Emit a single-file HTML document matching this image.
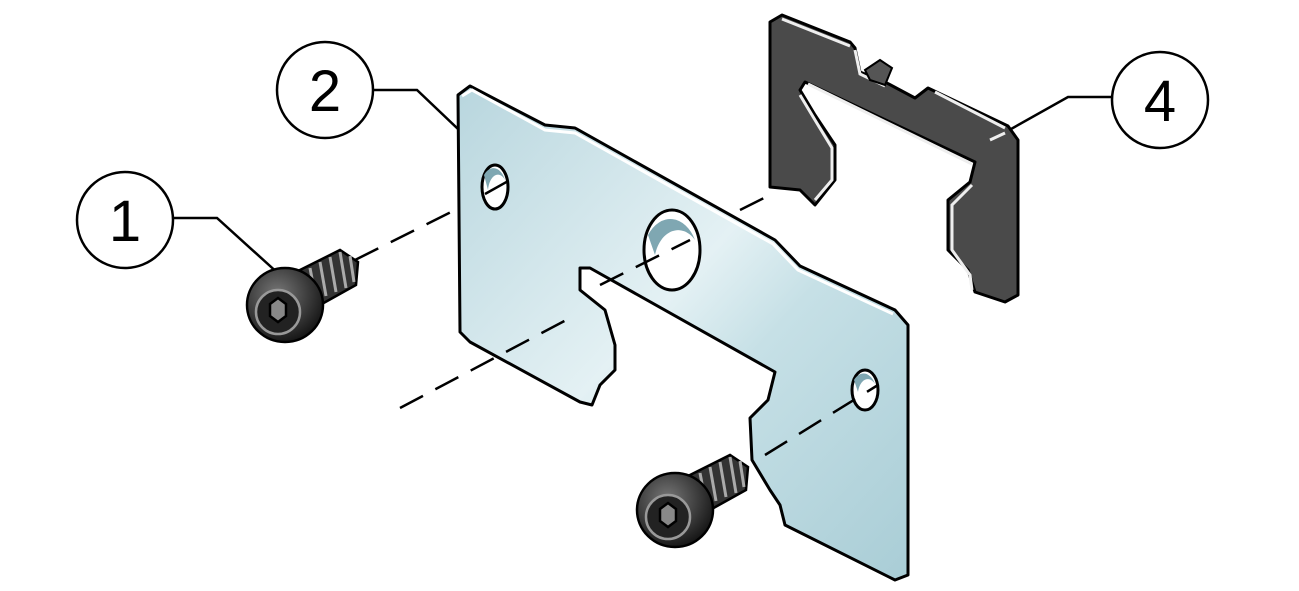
<!DOCTYPE html>
<html><head><style>html,body{margin:0;padding:0;background:#fff;}svg{display:block;}</style></head>
<body>
<svg width="1299" height="591" viewBox="0 0 1299 591" xmlns="http://www.w3.org/2000/svg">
<defs>
<linearGradient id="pl" x1="0" y1="0" x2="1" y2="1">
<stop offset="0" stop-color="#b8d6de"/><stop offset="0.45" stop-color="#e4f1f4"/><stop offset="0.6" stop-color="#c6e0e6"/><stop offset="1" stop-color="#a9cdd6"/>
</linearGradient>
<radialGradient id="hd" cx="0.4" cy="0.35" r="0.7"><stop offset="0" stop-color="#777"/><stop offset="1" stop-color="#111"/></radialGradient>
</defs>
<g fill="none" stroke="#000" stroke-width="2.5">
<!-- leaders -->
<polyline points="173,218 217,218 280,275"/>
<polyline points="373,90 417,90 478,148"/>
<polyline points="1112,97 1068,97 995,138"/>
<circle cx="125" cy="220" r="48" fill="#fff"/>
<circle cx="325" cy="90" r="48" fill="#fff"/>
<circle cx="1160" cy="100" r="48" fill="#fff"/>
</g>
<g font-family="Liberation Sans, sans-serif" font-size="58" text-anchor="middle">
<text x="125" y="241">1</text><text x="325" y="111">2</text><text x="1160" y="121">4</text>
</g>
<!-- dashed axes behind -->
<g stroke="#000" stroke-width="2.5" stroke-dasharray="26,14">
<line x1="355" y1="260" x2="465" y2="205"/>
<line x1="740" y1="210" x2="770" y2="195"/>
</g>
<!-- clip 4 -->
<path d="M770,22 L782,15 L850,42 L855,48 L860,72 L885,82 L915,98 L928,88 L1008,126 L1018,140 L1018,295 L1005,302 L975,292 L968,270 L948,250 L948,200 L970,182 L975,162 L805,82 L800,90 L815,115 L835,145 L835,180 L815,205 L800,190 L770,187 Z" fill="#4a4a4a" stroke="#000" stroke-width="3" stroke-linejoin="round"/>
<g fill="none" stroke="#eee" stroke-width="3">
<polyline points="782,19 850,46"/>
<polyline points="935,92 1005,128"/>
<polyline points="808,84 972,164"/>
<polyline points="800,95 815,120 832,148 832,180 815,200"/>
<polyline points="972,185 952,205 952,250 970,275 972,290"/>
<polyline points="855,50 860,74 885,86"/>
<line x1="990" y1="140" x2="1005" y2="133"/>
</g>
<path d="M865,70 L880,60 L892,68 L885,85 L870,80 Z" fill="#555" stroke="#000" stroke-width="2"/>
<!-- plate -->
<path d="M458,95 L470,86 L545,125 L575,128 L775,240 L800,266 L895,310 L908,325 L908,575 L895,580 L785,525 L780,505 L770,490 L752,460 L750,418 L768,400 L775,372 L590,268 L580,268 L580,290 L605,310 L615,345 L615,370 L600,385 L592,405 L580,402 L470,342 L460,332 Z" fill="url(#pl)" stroke="#000" stroke-width="3" stroke-linejoin="round"/>
<g fill="none" stroke="#fff" stroke-width="3">
<polyline points="462,96 472,90 545,130 575,133 773,244 798,270 893,314"/>
</g>
<g stroke="#000" stroke-width="3" fill="#fff">
<ellipse cx="495" cy="187" rx="13" ry="22"/>
<ellipse cx="672" cy="250" rx="28" ry="40"/>
<ellipse cx="865" cy="390" rx="13" ry="20"/>
</g>
<g fill="#7fa7b2" stroke="none">
<path d="M484,175 A13,22 0 0 1 505,180 A10,18 0 0 0 488,190 Z"/>
<path d="M648,235 A28,40 0 0 1 695,240 A24,34 0 0 0 655,255 Z"/>
<path d="M854,380 A13,20 0 0 1 875,384 A10,16 0 0 0 858,392 Z"/>
</g>
<!-- dashed axes front -->
<g stroke="#000" stroke-width="2.5" stroke-dasharray="26,14">
<line x1="485" y1="194" x2="510" y2="180"/>
<line x1="400" y1="408" x2="570" y2="318"/>
<line x1="600" y1="285" x2="690" y2="240"/>
<line x1="765" y1="455" x2="878" y2="385"/>
</g>
<!-- screw 1 -->
<g stroke="#000" stroke-width="2.5">
<path d="M300,270 L340,250 L358,262 L356,285 L320,305 Z" fill="#333"/>
<g stroke="#aaa" stroke-width="3"><line x1="310" y1="268" x2="316" y2="300"/><line x1="320" y1="262" x2="326" y2="296"/><line x1="330" y1="257" x2="336" y2="292"/><line x1="340" y1="252" x2="346" y2="288"/><line x1="350" y1="256" x2="354" y2="282"/></g>
<ellipse cx="285" cy="305" rx="38" ry="37" fill="url(#hd)"/>
<ellipse cx="278" cy="312" rx="22" ry="22" fill="#222" stroke="#999"/>
<path d="M270,304 l8,-6 l8,6 l0,12 l-8,6 l-8,-6 Z" fill="#888" stroke="#000"/>
</g>
<!-- screw 2 -->
<g stroke="#000" stroke-width="2.5">
<path d="M690,475 L730,455 L748,467 L746,490 L710,510 Z" fill="#333"/>
<g stroke="#aaa" stroke-width="3"><line x1="700" y1="473" x2="706" y2="505"/><line x1="710" y1="467" x2="716" y2="501"/><line x1="720" y1="462" x2="726" y2="497"/><line x1="730" y1="457" x2="736" y2="493"/><line x1="740" y1="461" x2="744" y2="487"/></g>
<ellipse cx="675" cy="510" rx="38" ry="37" fill="url(#hd)"/>
<ellipse cx="668" cy="517" rx="22" ry="22" fill="#222" stroke="#999"/>
<path d="M660,509 l8,-6 l8,6 l0,12 l-8,6 l-8,-6 Z" fill="#888" stroke="#000"/>
</g>
</svg>
</body></html>
